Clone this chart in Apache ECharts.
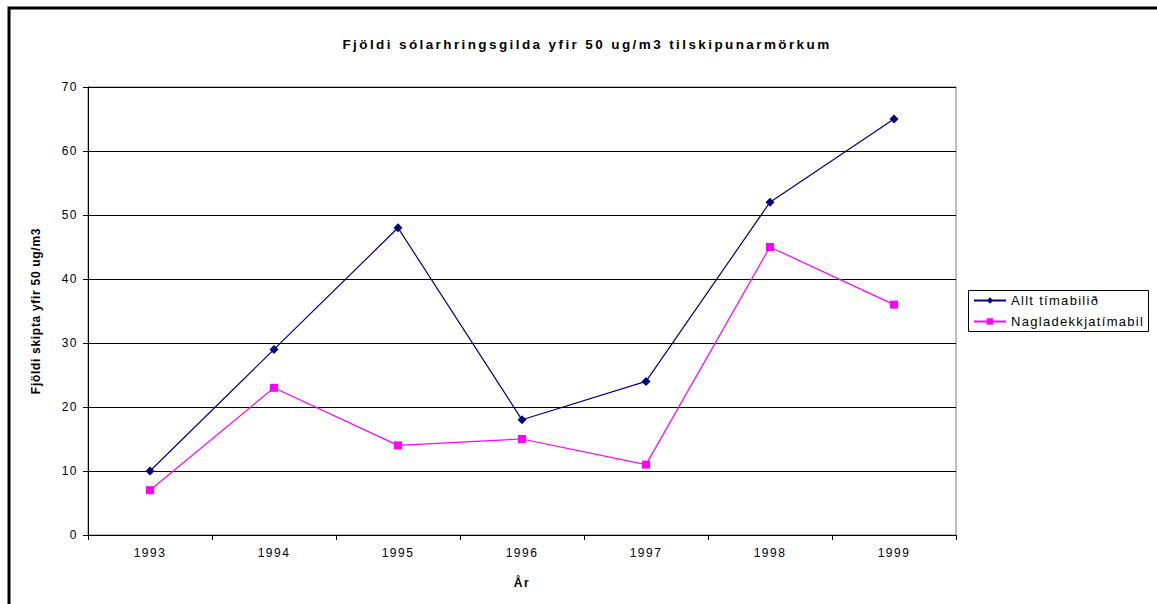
<!DOCTYPE html>
<html><head><meta charset="utf-8">
<script src="https://cdn.jsdelivr.net/npm/echarts@6/dist/echarts.min.js"></script>
<style>html,body{margin:0;padding:0;background:#fff}#c{width:1157px;height:604px}#c text{letter-spacing:1.5px}</style>
</head><body><div id="c"></div>
<script>
const years = ['1993','1994','1995','1996','1997','1998','1999'];
const alltTimabilid = [10, 29, 48, 18, 24, 52, 65];
const nagladekkjatimabil = [7, 23, 14, 15, 11, 45, 36];
const titleText = 'Fjöldi sólarhringsgilda yfir 50 ug/m3 tilskipunarmörkum';
const yName = 'Fjöldi skipta yfir 50 ug/m3';
const xName = 'År';
const seriesNames = ['Allt tímabilið', 'Nagladekkjatímabil'];
const FONT = '"Liberation Sans", Arial, sans-serif';

const chart = echarts.init(document.getElementById('c'), null, {renderer: 'svg'});
chart.setOption({
  animation: false,
  backgroundColor: '#fff',
  title: {
    text: titleText, left: 582, top: 32, textAlign: 'center',
    textStyle: {fontFamily: FONT, fontSize: 13.5, fontWeight: 'bold', color: '#000'}
  },
  grid: {left: 88, right: 201, top: 87, bottom: 69, show: true, borderColor: '#808080', borderWidth: 1},
  legend: {
    orient: 'vertical', left: 968, top: 290, itemGap: 8,
    padding: [4, 4, 4, 5],
    itemWidth: 32, itemHeight: 8,
    textStyle: {fontFamily: FONT, fontSize: 13, color: '#000'},
    data: seriesNames
  },
  xAxis: {
    type: 'category', data: years, boundaryGap: true,
    name: xName, nameLocation: 'middle', nameGap: 42,
    nameTextStyle: {fontFamily: FONT, fontSize: 12, fontWeight: 'bold', color: '#000'},
    axisLine: {lineStyle: {color: '#000', width: 1}},
    axisTick: {show: true, inside: false, length: 5, lineStyle: {color: '#000'}},
    axisLabel: {fontFamily: FONT, fontSize: 12, color: '#000', margin: 12},
    splitLine: {show: false}
  },
  yAxis: {
    type: 'value', min: 0, max: 70, interval: 10,
    name: yName, nameLocation: 'middle', nameGap: 46,
    nameTextStyle: {fontFamily: FONT, fontSize: 12, fontWeight: 'bold', color: '#000'},
    axisLine: {show: true, lineStyle: {color: '#000', width: 1}},
    axisTick: {show: true, inside: false, length: 5, lineStyle: {color: '#000'}},
    axisLabel: {fontFamily: FONT, fontSize: 12, color: '#000', margin: 10},
    splitLine: {show: true, lineStyle: {color: '#000', width: 1}}
  },
  series: [
    {
      name: seriesNames[0], type: 'line', data: alltTimabilid,
      symbol: 'diamond', symbolSize: 9,
      lineStyle: {color: '#000080', width: 1.2},
      itemStyle: {color: '#000080'}
    },
    {
      name: seriesNames[1], type: 'line', data: nagladekkjatimabil,
      symbol: 'rect', symbolSize: 8,
      lineStyle: {color: '#ff00ff', width: 1.2},
      itemStyle: {color: '#ff00ff'}
    }
  ],
  graphic: [
    {type: 'rect', shape: {x: 9, y: 8, width: 1160, height: 620}, style: {fill: null, stroke: '#000', lineWidth: 3}, z: 100},
    {type: 'rect', shape: {x: 968.5, y: 290.5, width: 180, height: 41}, style: {fill: null, stroke: '#000', lineWidth: 1}, z: 100}
  ]
});
function spacing() {
  document.querySelectorAll('#c text').forEach(function (t) {
    const s = t.textContent;
    if (s === titleText) t.style.letterSpacing = '2.4px';
    else if (s === yName) t.style.letterSpacing = '0.7px';
    else if (seriesNames.indexOf(s) >= 0) t.style.letterSpacing = '1.3px';
  });
}
spacing();
chart.on('finished', spacing);
</script></body></html>
